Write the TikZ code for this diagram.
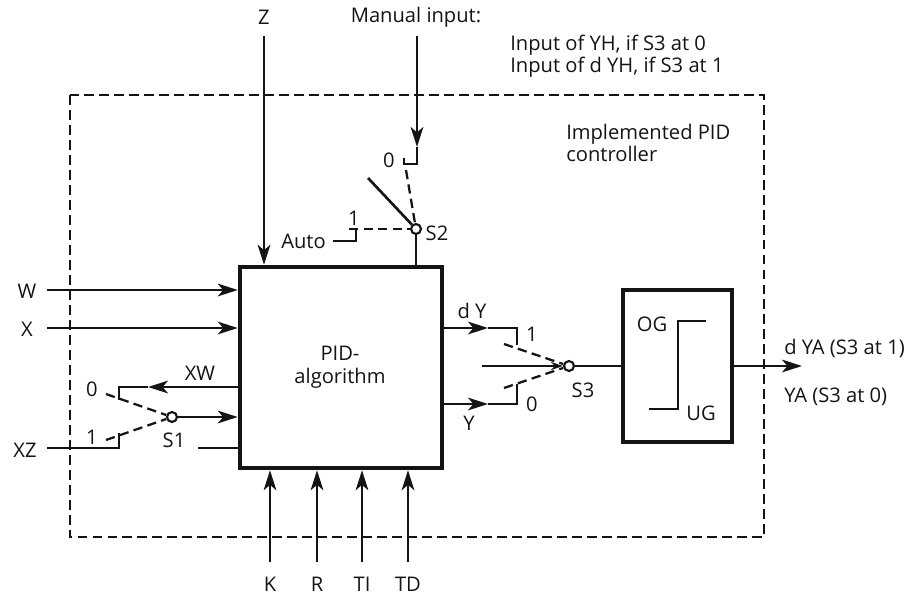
\documentclass[tikz,border=0pt]{standalone}
\usepackage{fontspec}
\setmainfont{Open Sans}
\usepackage{xcolor}
\usetikzlibrary{arrows.meta, positioning}
\definecolor{myink}{RGB}{20,20,20}
\tikzset{
  block/.style={rectangle, draw=myink, line width=3.4pt, inner sep=0pt},
  wire/.style={draw=myink, line width=2pt},
  arrow/.style={wire, -{Stealth[length=15pt,width=9.5pt,inset=4pt]}},
  swing/.style={draw=myink, line width=1.7pt, dash pattern=on 7pt off 4pt},
  lbl/.style={font=\fontsize{15.2pt}{17pt}\selectfont, text=myink, inner sep=0pt},
  pivot/.style={circle, draw=myink, line width=1.6pt, fill=white, minimum size=7.5pt, inner sep=0pt}
}
\begin{document}
\begin{tikzpicture}[x=0.0265cm, y=-0.0265cm]
  \useasboundingbox (0,0) rectangle (912,596);

  % frame
  \draw[draw=myink, line width=1.8pt, dash pattern=on 7.5pt off 3.8pt] (70,95) rectangle (764,537);

  % blocks
  \node[block, minimum width=5.353cm, minimum height=5.327cm] (pid) at (341,367.5) {};
  \node[lbl, align=center] (pidlbl) at (340,367) {PID-\\algorithm};
  \node[block, minimum width=2.89cm, minimum height=4.03cm] (lmt) at (677.5,366) {};

  % limiter curve
  \node[lbl] (og) at (652,324) {OG};
  \node[lbl] (ug) at (701,413) {UG};
  \coordinate (ogend) at (706,321);
  \coordinate (ogcorner) at (678,321);
  \coordinate (ugcorner) at (678,409);
  \coordinate (ugend) at (649,409);
  \draw[wire] (ogend) -- (ogcorner) -- (ugcorner) -- (ugend);

  % inputs on the left
  \node[lbl] (w) at (27,291) {W};
  \node[lbl] (x) at (27,329) {X};
  \node[lbl] (xz) at (25,450) {XZ};
  \coordinate (wstart) at (47,290);
  \coordinate (xstart) at (47,328);
  \draw[arrow] (wstart) -- (wstart -| pid.west);
  \draw[arrow] (xstart) -- (xstart -| pid.west);

  % S1
  \node[pivot] (sone) at (172,417) {};
  \node[lbl] (sonelbl) at (174,440) {S1};
  \node[lbl] (soneoff) at (92,389) {0};
  \node[lbl] (soneon) at (92,437) {1};
  \node[lbl] (xw) at (200,373) {XW};
  \coordinate (xwtip) at (148,387);
  \coordinate (xwcorner) at (119,387);
  \coordinate (xwend) at (119,400);
  \coordinate (xzstart) at (47,448);
  \coordinate (xzcorner) at (119,448);
  \coordinate (xzend) at (119,433);
  \coordinate (fbstart) at (198,448);
  \coordinate (soneoffend) at (106,394);
  \coordinate (soneonend) at (106,440);
  \draw[swing] (soneoffend) -- (sone);
  \draw[swing] (soneonend) -- (sone);
  \draw[arrow] (xwtip -| pid.west) -- (xwtip);
  \draw[wire] (xwtip) -- (xwcorner) -- (xwend);
  \draw[wire] (xzstart) -- (xzcorner) -- (xzend);
  \draw[arrow] (sone) -- (sone -| pid.west);
  \draw[wire] (fbstart) -- (fbstart -| pid.west);

  % inputs from above
  \node[lbl] (z) at (264,17) {Z};
  \coordinate (zstart) at (264,36);
  \draw[arrow] (zstart) -- (zstart |- pid.north);
  \node[lbl] (manual) at (416,17) {Manual input:};
  \node[lbl, align=left, anchor=west] (note) at (510,56) {Input of YH, if S3 at 0\\Input of d YH, if S3 at 1};
  \node[lbl, align=left, anchor=west] (impl) at (566,143) {Implemented PID\\controller};
  \coordinate (mstart) at (417,36);
  \coordinate (mtip) at (417,147);
  \coordinate (mcorner) at (417,164);
  \coordinate (mhook) at (404,164);
  \coordinate (mend) at (404,158);
  \draw[arrow] (mstart) -- (mtip);
  \draw[wire] (mtip) -- (mcorner) -- (mhook) -- (mend);

  % S2
  \node[pivot] (stwo) at (416,229) {};
  \node[lbl] (stwolbl) at (437,233) {S2};
  \node[lbl] (stwooff) at (389,160) {0};
  \node[lbl] (stwoon) at (354,218) {1};
  \node[lbl, anchor=east] (auto) at (326,241) {Auto};
  \coordinate (stwooffend) at (406,170);
  \coordinate (stwofree) at (368,178);
  \coordinate (autostart) at (333,241);
  \coordinate (autocorner) at (356,241);
  \coordinate (autohook) at (356,229);
  \coordinate (stwoonend) at (349,229);
  \draw[swing] (stwooffend) -- (stwo);
  \draw[swing] (stwoonend) -- (stwo);
  \draw[wire] (stwofree) -- (stwo);
  \draw[wire] (stwo) -- (stwo |- pid.north);
  \draw[wire] (autostart) -- (autocorner) -- (autohook);

  % inputs from below
  \foreach \nm/\px/\txt in {k/270/K, r/317/R, ti/362/TI, td/408/TD} {
    \node[lbl] (\nm) at (\px,584) {\txt};
    \coordinate (\nm start) at (\px,562);
    \draw[arrow] (\nm start) -- (\nm start |- pid.south);
  }

  % S3
  \node[pivot] (sthree) at (569,366) {};
  \node[lbl] (sthreelbl) at (583,390) {S3};
  \node[lbl] (dy) at (472,311) {d Y};
  \node[lbl] (y) at (469,423) {Y};
  \node[lbl] (sthreeon) at (532,334) {1};
  \node[lbl] (sthreeoff) at (532,404) {0};
  \coordinate (dytip) at (488,328);
  \coordinate (dycorner) at (517,328);
  \coordinate (dyend) at (517,345);
  \coordinate (ytip) at (488,404);
  \coordinate (ycorner) at (517,404);
  \coordinate (yend) at (517,384);
  \coordinate (sthreestart) at (482,366);
  \coordinate (sthreeonend) at (504,344);
  \coordinate (sthreeoffend) at (504,388);
  \draw[arrow] (dytip -| pid.east) -- (dytip);
  \draw[wire] (dytip) -- (dycorner) -- (dyend);
  \draw[arrow] (ytip -| pid.east) -- (ytip);
  \draw[wire] (ytip) -- (ycorner) -- (yend);
  \draw[swing] (sthreeonend) -- (sthree);
  \draw[swing] (sthreeoffend) -- (sthree);
  \draw[wire, -{Stealth[length=9pt,width=6pt]}] (sthreestart) -- (sthree.west);
  \draw[wire] (sthree) -- (lmt.west);

  % output
  \coordinate (outtip) at (802,366);
  \draw[arrow] (lmt.east) -- (outtip);
  \node[lbl, anchor=west] (yaone) at (784,348) {d YA (S3 at 1)};
  \node[lbl, anchor=west] (yazero) at (784,397) {YA (S3 at 0)};
\end{tikzpicture}
\end{document}
